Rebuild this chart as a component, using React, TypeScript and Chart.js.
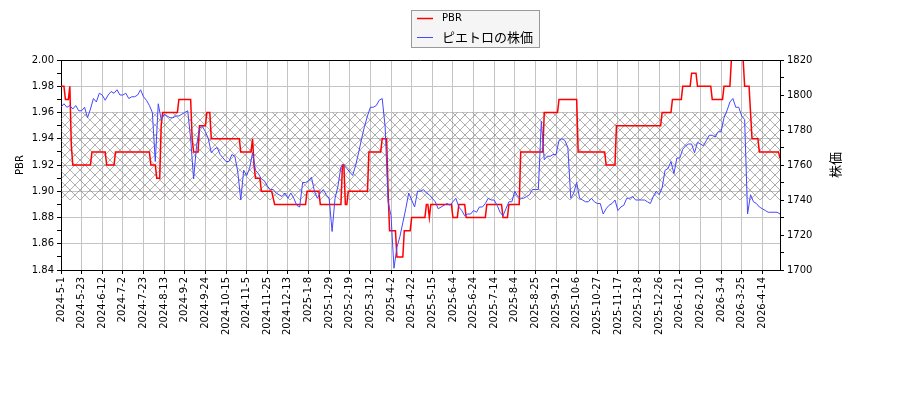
import { Chart, registerables, type Plugin } from 'chart.js'
import { useEffect, useRef } from 'react'

Chart.register(...registerables)

// x axis: trading-day index, a label every 14 trading days
const tickLabels = [
  '2024-5-1', '2024-5-23', '2024-6-12', '2024-7-2', '2024-7-23', '2024-8-13', '2024-9-2',
  '2024-9-24', '2024-10-15', '2024-11-5', '2024-11-25', '2024-12-13', '2025-1-8', '2025-1-29',
  '2025-2-19', '2025-3-12', '2025-4-2', '2025-4-22', '2025-5-15', '2025-6-4', '2025-6-24',
  '2025-7-14', '2025-8-4', '2025-8-25', '2025-9-12', '2025-10-6', '2025-10-27', '2025-11-17',
  '2025-12-8', '2025-12-26', '2026-1-21', '2026-2-10', '2026-3-4', '2026-3-25', '2026-4-14',
]
const tickEvery = 14
const lastDay = 488

// share price, one reading every 2 trading days
const priceEvery = 2
const price = [
  1793, 1795, 1793, 1794, 1792, 1794, 1791, 1791, 1793, 1787,
  1792, 1798, 1796, 1801, 1800, 1797, 1800, 1802, 1801, 1803,
  1800, 1800, 1801, 1798, 1799, 1799, 1800, 1803, 1799, 1797,
  1794, 1790, 1762, 1795, 1786, 1789, 1788, 1787, 1787, 1788,
  1788, 1789, 1790, 1791, 1775, 1752, 1771, 1781, 1782, 1779,
  1775, 1767, 1769, 1770, 1766, 1764, 1762, 1762, 1766, 1765,
  1756, 1740, 1757, 1754, 1758, 1767, 1757, 1755, 1752, 1751,
  1748, 1746, 1746, 1744, 1743, 1742, 1744, 1741, 1744, 1741,
  1737, 1736, 1750, 1750, 1751, 1753, 1745, 1741, 1744, 1746,
  1743, 1741, 1722, 1741, 1748, 1759, 1760, 1758, 1756, 1754,
  1760, 1767, 1775, 1782, 1788, 1793, 1793, 1794, 1797, 1798,
  1782, 1739, 1731, 1701, 1713, 1719, 1727, 1735, 1744, 1740,
  1736, 1745, 1745, 1746, 1744, 1743, 1741, 1739, 1735, 1736,
  1737, 1738, 1737, 1739, 1741, 1736, 1734, 1731, 1732, 1732,
  1734, 1733, 1736, 1736, 1738, 1741, 1740, 1740, 1737, 1733,
  1731, 1735, 1739, 1739, 1745, 1742, 1741, 1741, 1742, 1743,
  1746, 1746, 1746, 1785, 1763, 1765, 1765, 1766, 1766, 1774,
  1775, 1774, 1770, 1741, 1744, 1750, 1741, 1740, 1739, 1739,
  1741, 1739, 1738, 1738, 1732, 1735, 1737, 1738, 1740, 1734,
  1736, 1737, 1741, 1741, 1742, 1740, 1740, 1740, 1740, 1739,
  1738, 1742, 1745, 1743, 1747, 1757, 1758, 1762, 1755, 1764,
  1764, 1769, 1771, 1772, 1772, 1767, 1773, 1772, 1771, 1774,
  1777, 1777, 1776, 1779, 1779, 1787, 1791, 1796, 1798, 1793,
  1793, 1788, 1786, 1732, 1743, 1739, 1738, 1736, 1735, 1734,
  1733, 1733, 1733, 1733, 1732,
]

// PBR: day on which each level starts, and the level
const pbrStart = [
  0, 3, 6, 7, 8, 21, 31, 37, 61, 65, 68, 69, 80, 89, 90, 94, 99, 102, 122, 130,
  131, 132, 136, 144, 145, 167, 176, 191, 193, 195, 209, 218, 222, 223, 228, 233, 238, 248, 250, 251,
  266, 270, 275, 289, 300, 304, 312, 328, 338, 351, 370, 377, 408, 415, 422, 428, 432, 442, 450, 455,
  464, 468, 469, 474, 488,
]
const pbrValue = [
  1.98, 1.97, 1.98, 1.935, 1.92, 1.93, 1.92, 1.93, 1.92, 1.91, 1.95, 1.96, 1.97, 1.94, 1.93, 1.95, 1.96, 1.94, 1.93, 1.94,
  1.92, 1.91, 1.9, 1.895, 1.89, 1.9, 1.89, 1.92, 1.89, 1.9, 1.93, 1.94, 1.9, 1.87, 1.85, 1.87, 1.88, 1.89, 1.88, 1.89,
  1.88, 1.89, 1.88, 1.89, 1.88, 1.89, 1.93, 1.96, 1.97, 1.93, 1.92, 1.95, 1.96, 1.97, 1.98, 1.99, 1.98, 1.97, 1.98, 2.0,
  1.98, 1.96, 1.94, 1.93, 1.925,
]

// shaded price band
const bandLow = 1740
const bandHigh = 1790

const pbrTicks = [1.84, 1.85, 1.86, 1.87, 1.88, 1.89, 1.9, 1.91, 1.92, 1.93, 1.94, 1.95, 1.96, 1.97, 1.98, 1.99, 2.0]
const priceTicks = [1700, 1710, 1720, 1730, 1740, 1750, 1760, 1770, 1780, 1790, 1800, 1810, 1820]

const FONT = '"DejaVu Sans", "Noto Sans CJK JP", sans-serif'
const CJK = '"Noto Sans CJK JP", "DejaVu Sans", sans-serif'
const RED = '#ff0000'
const BLUE = '#4646ff'
const GRID = '#c4c4c4'

function pbrPoints() {
  const pts: { x: number; y: number }[] = []
  let run = 0
  for (let d = 0; d <= lastDay; d++) {
    while (run + 1 < pbrStart.length && pbrStart[run + 1] <= d) run++
    pts.push({ x: d, y: pbrValue[run] })
  }
  return pts
}

function makeHatch() {
  const tile = document.createElement('canvas')
  tile.width = 10
  tile.height = 10
  const g = tile.getContext('2d')!
  g.strokeStyle = 'rgba(110,110,110,0.55)'
  g.lineWidth = 1
  g.beginPath()
  g.moveTo(0, 0)
  g.lineTo(10, 10)
  g.moveTo(10, 0)
  g.lineTo(0, 10)
  g.stroke()
  return g.createPattern(tile, 'repeat')
}

const decor: Plugin<'line'> = {
  id: 'decor',
  beforeDatasetsDraw(chart) {
    const { ctx, chartArea: a, scales } = chart
    const top = scales.y1.getPixelForValue(bandHigh)
    const bottom = scales.y1.getPixelForValue(bandLow)
    const hatch = makeHatch()
    if (!hatch) return
    ctx.save()
    ctx.fillStyle = hatch
    ctx.fillRect(a.left, top, a.right - a.left, bottom - top)
    ctx.restore()
  },
  afterDraw(chart) {
    const { ctx, chartArea: a } = chart
    ctx.save()
    // top spine
    ctx.strokeStyle = '#000'
    ctx.lineWidth = 1
    ctx.beginPath()
    ctx.moveTo(a.left, a.top + 0.5)
    ctx.lineTo(a.right, a.top + 0.5)
    ctx.stroke()

    // axis titles
    ctx.fillStyle = '#000'
    ctx.textAlign = 'center'
    ctx.textBaseline = 'middle'
    ctx.translate(20, (a.top + a.bottom) / 2)
    ctx.rotate(-Math.PI / 2)
    ctx.font = `10px ${FONT}`
    ctx.fillText('PBR', 0, 0)
    ctx.setTransform(chart.currentDevicePixelRatio, 0, 0, chart.currentDevicePixelRatio, 0, 0)
    ctx.translate(835, (a.top + a.bottom) / 2)
    ctx.rotate(-Math.PI / 2)
    ctx.font = `13px ${CJK}`
    ctx.fillText('株価', 0, 0)
    ctx.setTransform(chart.currentDevicePixelRatio, 0, 0, chart.currentDevicePixelRatio, 0, 0)

    // legend
    ctx.fillStyle = 'rgba(244,244,244,0.9)'
    ctx.fillRect(411.5, 10.5, 128, 37)
    ctx.strokeStyle = '#999'
    ctx.strokeRect(411.5, 10.5, 128, 37)
    ctx.lineWidth = 1.5
    ctx.strokeStyle = RED
    ctx.beginPath()
    ctx.moveTo(417, 18.5)
    ctx.lineTo(433, 18.5)
    ctx.stroke()
    ctx.lineWidth = 1
    ctx.strokeStyle = BLUE
    ctx.beginPath()
    ctx.moveTo(417, 37.5)
    ctx.lineTo(433, 37.5)
    ctx.stroke()
    ctx.fillStyle = '#000'
    ctx.textAlign = 'left'
    ctx.font = `10px ${FONT}`
    ctx.fillText('PBR', 442, 18.5)
    ctx.font = `13px ${CJK}`
    ctx.fillText('ピエトロの株価', 442, 37.5)
    ctx.restore()
  },
}

export default function App() {
  const canvasRef = useRef<HTMLCanvasElement | null>(null)

  useEffect(() => {
    document.body.style.margin = '0'
    const canvas = canvasRef.current
    if (!canvas) {
      return
    }

    Chart.defaults.font.family = FONT
    Chart.defaults.font.size = 10
    Chart.defaults.color = '#000'

    const chart = new Chart(canvas, {
      type: 'line',
      data: {
        datasets: [
          {
            label: 'PBR',
            data: pbrPoints(),
            parsing: false,
            yAxisID: 'y',
            borderColor: RED,
            borderWidth: 1.5,
            pointRadius: 0,
            tension: 0,
            order: 1,
          },
          {
            label: 'ピエトロの株価',
            data: price.map((p, k) => ({ x: k * priceEvery, y: p })),
            parsing: false,
            yAxisID: 'y1',
            borderColor: BLUE,
            borderWidth: 1,
            pointRadius: 0,
            tension: 0,
            order: 0,
          },
        ],
      },
      options: {
        animation: false,
        responsive: true,
        maintainAspectRatio: false,
        events: [],
        layout: { padding: { top: 60, left: 0, right: 0, bottom: 0 } },
        plugins: {
          legend: { display: false },
          tooltip: { enabled: false },
        },
        scales: {
          x: {
            type: 'linear',
            min: 0,
            max: lastDay,
            afterBuildTicks: (scale) => {
              scale.ticks = tickLabels.map((_, k) => ({ value: k * tickEvery }))
            },
            afterFit: (scale) => {
              scale.height = 130
            },
            ticks: {
              autoSkip: false,
              minRotation: 90,
              maxRotation: 90,
              padding: 3,
              callback: (value) => tickLabels[Math.round(Number(value) / tickEvery)] ?? '',
            },
            grid: { color: GRID, tickColor: '#000', tickLength: 4 },
            border: { color: '#000' },
          },
          y: {
            type: 'linear',
            position: 'left',
            min: 1.84,
            max: 2.0,
            afterBuildTicks: (scale) => {
              scale.ticks = pbrTicks.map((v) => ({ value: v }))
            },
            afterFit: (scale) => {
              scale.width = 61
            },
            ticks: {
              autoSkip: false,
              padding: 3,
              callback: (value) => {
                const n = Math.round(Number(value) * 100)
                return n % 2 === 0 ? (n / 100).toFixed(2) : ''
              },
            },
            grid: {
              color: (c) => (c.tick && Math.round(c.tick.value * 100) % 2 === 0 ? GRID : 'rgba(0,0,0,0)'),
              tickColor: '#000',
              tickLength: 4,
            },
            border: { color: '#000' },
          },
          y1: {
            type: 'linear',
            position: 'right',
            min: 1700,
            max: 1820,
            afterBuildTicks: (scale) => {
              scale.ticks = priceTicks.map((v) => ({ value: v }))
            },
            afterFit: (scale) => {
              scale.width = 120
            },
            ticks: {
              autoSkip: false,
              padding: 3,
              callback: (value) => (Number(value) % 20 === 0 ? String(value) : ''),
            },
            grid: { drawOnChartArea: false, tickColor: '#000', tickLength: 4 },
            border: { color: '#000' },
          },
        },
      },
      plugins: [decor],
    })

    return () => {
      chart.destroy()
    }
  }, [])

  return (
    <div style={{ position: 'relative', width: 900, height: 400 }}>
      <canvas ref={canvasRef} />
    </div>
  )
}
